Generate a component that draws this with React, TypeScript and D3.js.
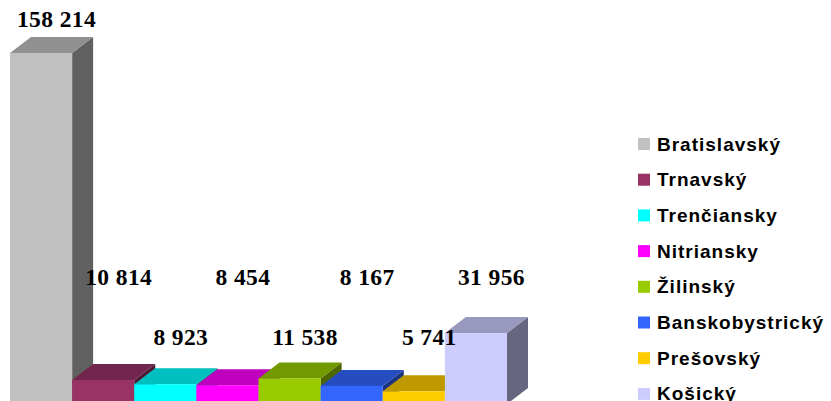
import React from "react";
import * as d3 from "d3";

const categories = ["Bratislavský", "Trnavský", "Trenčiansky", "Nitriansky", "Žilinský", "Banskobystrický", "Prešovský", "Košický"];
const values = [158214, 10814, 8923, 8454, 11538, 8167, 5741, 31956];
const valueLabels = ["158 214", "10 814", "8 923", "8 454", "11 538", "8 167", "5 741", "31 956"];
const colors = ["#C0C0C0", "#993366", "#00FFFF", "#FF00FF", "#99CC00", "#3366FF", "#FFCC00", "#CCCCFF"];
const labelRows = [0, 1, 2, 1, 2, 1, 2, 1];

const W = 831;
const H = 401;
const DX = 21;
const DY = 16;

function shade(c: string, k: number) {
  const r = d3.rgb(c);
  return d3.rgb(r.r * k, r.g * k, r.b * k).formatHex();
}

export default function App() {
  const x = d3.scaleBand<string>().domain(categories).range([10, 507]).padding(0);
  const y = d3.scaleLinear().domain([0, 160000]).range([404, 49]);
  const bw = x.bandwidth();
  const rowY = [Infinity, 285, 345];

  return (
    <svg width={W} height={H} style={{ position: "fixed", left: 0, top: 0, background: "#fff" }}>
      <rect x={0} y={0} width={W} height={H} fill="#fff" />
      {categories.map((c, i) => {
        const x0 = x(c)!;
        const x1 = x0 + bw;
        const yt = y(values[i]);
        const yb = y(0);
        const col = colors[i];
        return (
          <g key={c}>
            <path
              d={`M${x1},${yt} L${x1 + DX},${yt - DY} L${x1 + DX},${yb - DY} L${x1},${yb} Z`}
              fill={shade(col, 0.5)}
            />
            <path
              d={`M${x0},${yt} L${x0 + DX},${yt - DY} L${x1 + DX},${yt - DY} L${x1},${yt} Z`}
              fill={shade(col, 0.75)}
            />
            <rect x={x0} y={yt} width={bw} height={yb - yt} fill={col} />
          </g>
        );
      })}
      {categories.map((c, i) => {
        const cx = x(c)! + bw / 2 + DX / 2 + 5;
        const ly = Math.min(y(values[i]) - DY - 10, rowY[labelRows[i]]);
        return (
          <text
            key={"l" + c}
            x={cx}
            y={ly}
            textAnchor="middle"
            fontFamily="'Liberation Serif', 'Times New Roman', serif"
            fontWeight="bold"
            fontSize={23.5}
            letterSpacing={0.4}
            fill="#000"
          >
            {valueLabels[i]}
          </text>
        );
      })}
      {categories.map((c, i) => {
        const cy = 144 + i * 35.7;
        return (
          <g key={"g" + c}>
            <rect x={638} y={cy - 6} width={12} height={12} fill={colors[i]} />
            <text
              x={657}
              y={cy + 6.5}
              fontFamily="'Liberation Sans', Arial, sans-serif"
              fontWeight="bold"
              fontSize={19}
              letterSpacing={1}
              fill="#000"
            >
              {c}
            </text>
          </g>
        );
      })}
    </svg>
  );
}
